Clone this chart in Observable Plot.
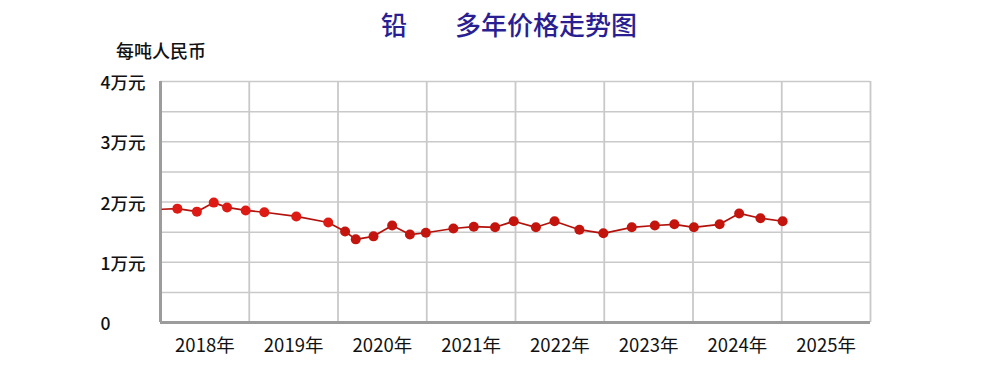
<!DOCTYPE html>
<html>
<head>
<meta charset="utf-8">
<script src="https://cdn.jsdelivr.net/npm/d3@7"></script>
<script src="https://cdn.jsdelivr.net/npm/@observablehq/plot@0.6"></script>
<style>
  html, body { margin: 0; padding: 0; background: #fff; }
  #wrap { position: relative; width: 991px; height: 369px; overflow: hidden; font-family: "Noto Sans CJK SC", "Noto Sans", sans-serif; }
  .title { position: absolute; top: 11px; font-size: 26px; color: #2a1f92; white-space: pre; line-height: 1; font-weight: 500; }
  #unit { position: absolute; left: 116px; top: 41px; font-size: 18px; color: #111; line-height: 1; font-weight: 500; }
  #chart { position: absolute; left: 0; top: 0; }
</style>
</head>
<body>
<div id="wrap">
  <div id="chart"></div>
  <div class="title" style="left:381px">铅</div>
  <div class="title" style="left:455px">多年价格走势图</div>
  <div id="unit">每吨人民币</div>
</div>
<script>
// time in decimal years, price in 元/吨
const times = [2018.02, 2018.19, 2018.41, 2018.60, 2018.75, 2018.96, 2019.17, 2019.53, 2019.89,
  2020.08, 2020.20, 2020.40, 2020.61, 2020.81, 2020.99, 2021.30, 2021.53, 2021.77, 2021.98,
  2022.23, 2022.44, 2022.72, 2022.99, 2023.31, 2023.57, 2023.79, 2024.01, 2024.30, 2024.52,
  2024.76, 2025.01];
const prices = [18800, 18900, 18400, 19900, 19100, 18600, 18300, 17600, 16600,
  15100, 13800, 14300, 16100, 14600, 14900, 15600, 15900, 15800, 16800,
  15800, 16800, 15400, 14800, 15800, 16100, 16300, 15800, 16300, 18100,
  17300, 16800];
// first entry is where the line starts at the axis (no marker)
const hasDot = times.map((t, i) => i > 0);
const yearGrid = [2018, 2019, 2020, 2021, 2022, 2023, 2024, 2025, 2026];
const yearLabels = ["2018年", "2019年", "2020年", "2021年", "2022年", "2023年", "2024年", "2025年"];
const yTicks = [0, 10000, 20000, 30000, 40000];
const yTickLabels = ["0", "1万元", "2万元", "3万元", "4万元"];
const yGrid = [0, 5000, 10000, 15000, 20000, 25000, 30000, 35000, 40000];

const data = times.map((t, i) => ({t, price: prices[i], dot: hasDot[i]}));
const labelPos = yearLabels.map((l, i) => yearGrid[i] + 0.5);

const chart = Plot.plot({
  width: 991,
  height: 369,
  marginLeft: 160,
  marginRight: 121,
  marginTop: 81,
  marginBottom: 47,
  style: {fontFamily: "'Noto Sans CJK SC', 'Noto Sans', sans-serif", background: "transparent"},
  x: {domain: [2018, 2026]},
  y: {domain: [0, 40000]},
  marks: [
    Plot.gridY(yGrid, {stroke: "#c9c9c9", strokeOpacity: 1, strokeWidth: 1.5}),
    Plot.gridX(yearGrid, {stroke: "#c9c9c9", strokeOpacity: 1, strokeWidth: 1.8}),
    Plot.ruleX([2018], {stroke: "#9c9c9c", strokeWidth: 3}),
    Plot.ruleY([0], {stroke: "#9c9c9c", strokeWidth: 3}),
    Plot.axisY(yTicks, {
      tickSize: 0, tickPadding: 0, textAnchor: "start", dx: -60, dy: 2,
      tickFormat: (d) => yTickLabels[yTicks.indexOf(d)],
      fontSize: 17.5, fontWeight: 500, fill: "#111", label: null
    }),
    Plot.axisX(labelPos, {
      tickSize: 0, tickPadding: 16,
      tickFormat: d => yearLabels[labelPos.indexOf(d)],
      fontSize: 18.5, fontWeight: 400, fill: "#111", label: null
    }),
    Plot.line(data, {x: "t", y: "price", stroke: "#b3120c", strokeWidth: 1.7}),
    Plot.dot(data.filter(d => d.dot), {
      x: "t", y: "price", r: 5,
      fill: d => d.t < 2020 ? "#de1a14" : "#c3150d",
      stroke: "none"
    })
  ]
});
document.getElementById("chart").appendChild(chart);
</script>
</body>
</html>
